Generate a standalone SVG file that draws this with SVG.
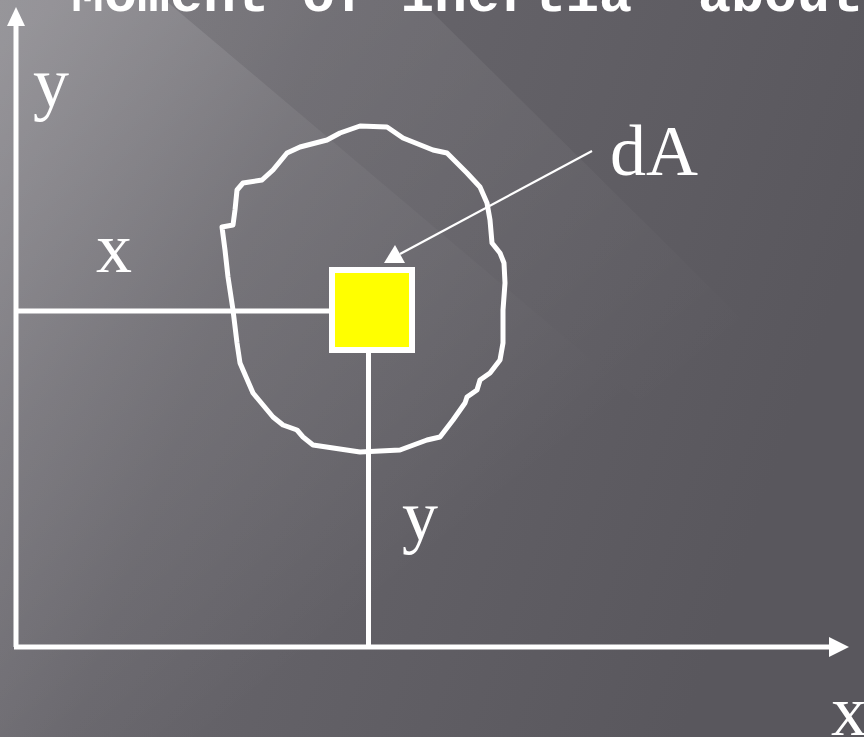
<svg xmlns="http://www.w3.org/2000/svg" width="864" height="737" viewBox="0 0 864 737">
  <defs>
    <linearGradient id="bg" x1="0" y1="0" x2="1" y2="0.3">
      <stop offset="0" stop-color="#7a787e"/>
      <stop offset="0.35" stop-color="#67656b"/>
      <stop offset="1" stop-color="#59575d"/>
    </linearGradient>
    <linearGradient id="glow" gradientUnits="userSpaceOnUse" x1="60" y1="0" x2="480" y2="520">
      <stop offset="0" stop-color="#ffffff" stop-opacity="0.22"/>
      <stop offset="0.45" stop-color="#ffffff" stop-opacity="0.10"/>
      <stop offset="1" stop-color="#ffffff" stop-opacity="0"/>
    </linearGradient>
    <linearGradient id="glow2" gradientUnits="userSpaceOnUse" x1="300" y1="0" x2="650" y2="420">
      <stop offset="0" stop-color="#ffffff" stop-opacity="0.08"/>
      <stop offset="1" stop-color="#ffffff" stop-opacity="0"/>
    </linearGradient>
    <style>
      .lbl { font-family: "Liberation Serif", "Times New Roman", serif; font-size: 72px; fill: #ffffff; }
      .ttl { font-family: "Liberation Mono", "Courier New", monospace; font-size: 55px; font-weight: bold; fill: #ffffff; }
      .ln { stroke: #ffffff; stroke-width: 5; fill: none; }
    </style>
  </defs>

  <rect x="0" y="0" width="864" height="737" fill="url(#bg)"/>
  <polygon points="0,0 165,0 864,590 864,737 0,737" fill="url(#glow)"/>
  <polygon points="165,0 420,0 864,440 864,590" fill="url(#glow2)"/>

  <text class="ttl" x="38" y="11">"Moment of inertia" about x</text>

  <g id="area">
    <path class="ln" stroke-width="4.5" stroke-linejoin="round" d="M360,126 L387,127 L403,138 L433,150 L447,153 L467,173 L480,187 L487,203 L490,220 L492,243 L500,253 L504,263 L505,283 L503,310 L503,343 L500,360 L490,373 L480,380 L477,390 L467,397 L465,403 L453,420 L440,437 L427,440 L400,450 L360,452 L313,445 L303,437 L297,430 L283,425 L273,417 L253,393 L240,363 L237,343 L233,310 L228,277 L225,250 L222,227 L233,225 L235,210 L237,190 L243,183 L262,180 L273,170 L287,153 L300,147 L327,140 L340,133 Z"/>
  </g>

  <g id="connectors">
    <line class="ln" x1="16" y1="647" x2="16" y2="26"/>
    <polygon points="16,7 7,26 25,26" fill="#ffffff"/>
    <line class="ln" x1="14" y1="647" x2="830" y2="647"/>
    <polygon points="849,647 829,637 829,657" fill="#ffffff"/>
    <line class="ln" x1="16" y1="311" x2="330" y2="311"/>
    <line class="ln" x1="368.5" y1="353" x2="368.5" y2="647"/>
    <line stroke="#ffffff" stroke-width="2.2" x1="592" y1="151" x2="400" y2="254"/>
    <polygon points="384,263 395,245 405,263" fill="#ffffff"/>
  </g>

  <g id="dA">
    <rect x="332" y="270" width="80" height="80" fill="#ffff00" stroke="#ffffff" stroke-width="6"/>
  </g>

  <text class="lbl" x="33" y="107">y</text>
  <text class="lbl" x="96" y="272">x</text>
  <text class="lbl" x="402" y="540">y</text>
  <text class="lbl" x="610" y="175">dA</text>
  <text class="lbl" x="831" y="735">x</text>
</svg>
